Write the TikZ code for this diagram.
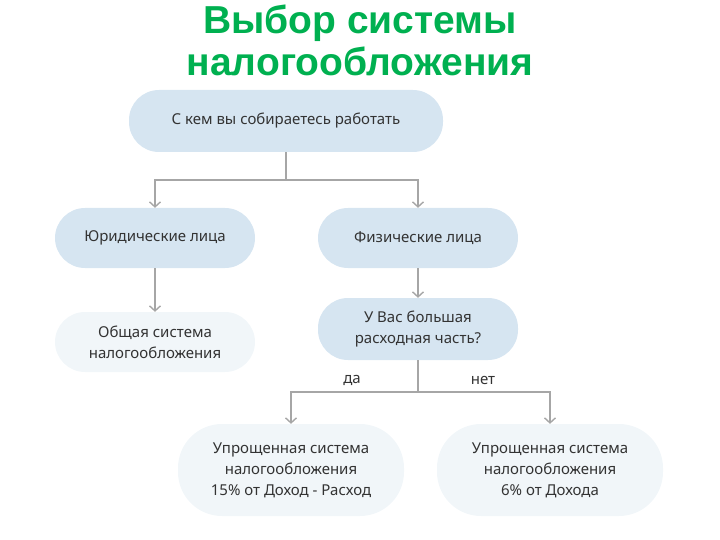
\documentclass[tikz,border=0pt]{standalone}
\usepackage{fontspec}
\setmainfont{Liberation Sans}
\newfontfamily\bodyfont{Noto Sans}
\usetikzlibrary{arrows.meta}
\definecolor{titlegreen}{HTML}{00B050}
\definecolor{boxblue}{HTML}{D6E5F1}
\definecolor{boxpale}{HTML}{F1F6F9}
\definecolor{linegray}{HTML}{A6A6A6}
\definecolor{textgray}{HTML}{333333}

\begin{document}
\begin{tikzpicture}[x=1pt, y=-1pt]

   % Set up styles for the chart
  \tikzset{
      box/.style={draw=none, fill=boxblue, rounded corners=30pt, minimum width=200pt,
                  minimum height=60pt, align=center, text=textgray,
                  font=\bodyfont\fontsize{15}{21}\selectfont},
      palebox/.style={box, fill=boxpale},
      title/.style={text=titlegreen, anchor=base, font=\bfseries\fontsize{39}{42}\selectfont},
      conn/.style={draw=linegray, line width=1.4pt},
      arr/.style={conn, -{Straight Barb[length=5pt, width=11pt]}},
      answer/.style={draw=none, fill=none, text=textgray, font=\bodyfont\fontsize{15}{16}\selectfont}
  }

  \useasboundingbox (0,0) rectangle (720,540);

  % Title
  \node[title] (title1) at (360,34) {Выбор системы};
  \node[title] (title2) at (360,76) {налогообложения};

  % Boxes
  \node[box, minimum width=314pt, minimum height=62pt] (who) at (286,121) {С кем вы собираетесь работать};
  \node[box] (legal) at (155,238) {Юридические лица};
  \node[box] (person) at (418,238) {Физические лица};
  \node[palebox] (general) at (155,342) {Общая система\\налогообложения};
  \node[box, minimum height=62pt] (cost) at (418,329) {У Вас большая\\расходная часть?};
  \node[palebox, rounded corners=44pt, minimum width=226pt, minimum height=92pt] (simple15) at (291,470)
      {Упрощенная система\\налогообложения\\15\% от Доход - Расход};
  \node[palebox, rounded corners=44pt, minimum width=226pt, minimum height=92pt] (simple6) at (550,470)
      {Упрощенная система\\налогообложения\\6\% от Дохода};

  % Branch points
  \coordinate (split1) at (286,180);
  \coordinate (split2) at (418,392);

  % Connectors
  \draw[conn] (who.south) -- (split1);
  \draw[arr] (split1) -| (legal.north);
  \draw[arr] (split1) -| (person.north);
  \draw[arr] (legal.south) -- (general.north);
  \draw[arr] (person.south) -- (cost.north);
  \draw[conn] (cost.south) -- (split2);
  \draw[arr] (split2) -| (simple15.north);
  \draw[arr] (split2) -| (simple6.north);

  % Answers
  \node[answer] (yes) at (352,380) {да};
  \node[answer] (no) at (483,380) {нет};

\end{tikzpicture}
\end{document}
